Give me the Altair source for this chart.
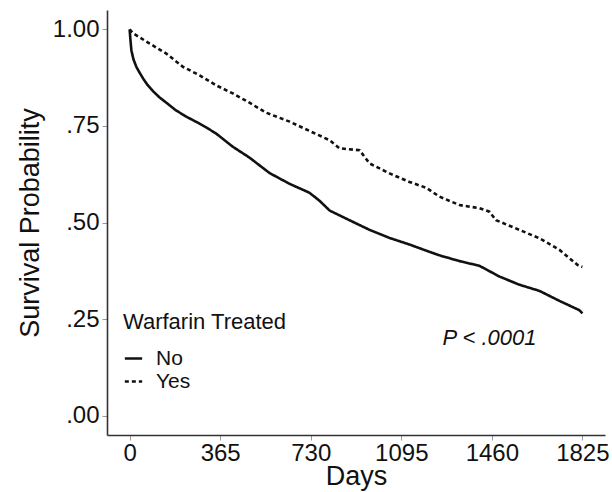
import altair as alt
import pandas as pd

# Kaplan-Meier curves
no_days = [0, 3, 7, 15, 27, 40, 54, 72, 94, 120, 148, 185, 228, 270, 309, 349, 416, 483, 564,
           645, 725, 766, 806, 886, 967, 1048, 1128, 1209, 1249, 1330, 1410, 1491, 1571, 1652,
           1733, 1813, 1825]
no_surv = [1.0, 0.975, 0.946, 0.923, 0.903, 0.888, 0.873, 0.856, 0.840, 0.824, 0.810, 0.791,
           0.774, 0.760, 0.746, 0.730, 0.696, 0.668, 0.628, 0.600, 0.577, 0.556, 0.531, 0.506,
           0.481, 0.460, 0.443, 0.424, 0.415, 0.400, 0.388, 0.360, 0.339, 0.323, 0.297, 0.273,
           0.265]

yes_days = [0, 13, 81, 148, 215, 282, 349, 416, 483, 551, 645, 725, 806, 846, 927, 967, 1048,
            1128, 1195, 1249, 1330, 1410, 1450, 1477, 1571, 1652, 1733, 1806, 1825]
yes_surv = [1.0, 0.99, 0.963, 0.937, 0.903, 0.881, 0.855, 0.834, 0.810, 0.784, 0.761, 0.737,
            0.713, 0.692, 0.687, 0.653, 0.627, 0.605, 0.590, 0.567, 0.545, 0.537, 0.528, 0.506,
            0.481, 0.459, 0.429, 0.390, 0.385]

groups = ["No", "Yes"]
x_ticks = [0, 365, 730, 1095, 1460, 1825]
y_ticks = [0, 0.25, 0.5, 0.75, 1.0]
p_text = ["P < .0001"]
p_pos_day = [1261]
p_pos_surv = [0.183]

df = pd.DataFrame(
    {"Days": no_days + yes_days,
     "Survival": no_surv + yes_surv,
     "Warfarin Treated": ["No"] * len(no_days) + ["Yes"] * len(yes_days),
     "order": list(range(len(no_days))) + list(range(len(yes_days)))}
)
ann = pd.DataFrame({"Days": p_pos_day, "Survival": p_pos_surv, "label": p_text})

FONT = "Liberation Sans"

xscale = alt.Scale(domain=[-91.25, 1916.25], nice=False, zero=False)
yscale = alt.Scale(domain=[-0.05, 1.05], nice=False, zero=False)

lines = alt.Chart(df).mark_line(strokeWidth=2.6, color="#111").encode(
    x=alt.X("Days:Q", scale=xscale,
            axis=alt.Axis(values=x_ticks, title="Days", format="d")),
    y=alt.Y("Survival:Q", scale=yscale,
            axis=alt.Axis(values=y_ticks, title="Survival Probability",
                          labelExpr="substring(format(datum.value, '.2f'), datum.value >= 1 ? 0 : 1)")),
    strokeDash=alt.StrokeDash(
        "Warfarin Treated:N",
        scale=alt.Scale(domain=groups, range=[[1, 0], [4, 3]]),
        legend=alt.Legend(
            orient="none", legendX=16, legendY=302,
            title="Warfarin Treated", titleFontSize=22, titleFontWeight="normal",
            titleColor="#111", titleFont=FONT, titlePadding=14,
            labelFontSize=21, labelColor="#111", labelFont=FONT,
            symbolType="stroke", symbolStrokeColor="#111", symbolStrokeWidth=2.6,
            symbolSize=300, labelOffset=12, rowPadding=1,
        ),
    ),
    order="order:Q",
)

ptext = alt.Chart(ann).mark_text(
    font=FONT, fontSize=22, fontStyle="italic", align="left", baseline="alphabetic", color="#111"
).encode(
    x=alt.X("Days:Q", scale=xscale),
    y=alt.Y("Survival:Q", scale=yscale),
    text="label:N",
)

chart = (lines + ptext).properties(
    width=498, height=425,
    autosize=alt.AutoSizeParams(type="none"),
    padding={"left": 107, "top": 10, "right": 7, "bottom": 57},
).configure_view(stroke=None).configure_axis(
    grid=False,
    domainColor="#333", domainWidth=1.6,
    tickColor="#999", tickSize=5, tickWidth=1,
    labelFont=FONT, labelFontSize=24, labelColor="#111",
    titleFont=FONT, titleFontSize=27, titleFontWeight="normal", titleColor="#111",
).configure_axisX(
    labelPadding=1, titlePadding=-2,
).configure_axisY(
    labelPadding=3, titlePadding=8,
)

chart.save("out.html", embed_options={"renderer": "svg", "actions": False})
